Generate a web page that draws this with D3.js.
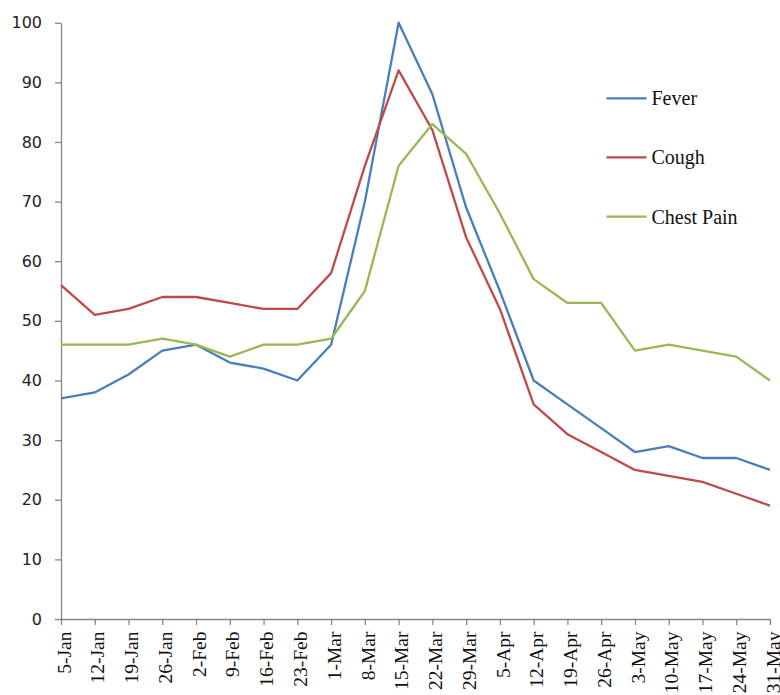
<!DOCTYPE html>
<html>
<head>
<meta charset="utf-8">
<script src="https://cdn.jsdelivr.net/npm/d3@7"></script>
<style>
  html, body { margin: 0; padding: 0; background: #fff; }
  svg { display: block; }
</style>
</head>
<body>
<svg id="chart" width="780" height="695"></svg>
<script>
const categories = ["5-Jan","12-Jan","19-Jan","26-Jan","2-Feb","9-Feb","16-Feb","23-Feb","1-Mar","8-Mar","15-Mar","22-Mar","29-Mar","5-Apr","12-Apr","19-Apr","26-Apr","3-May","10-May","17-May","24-May","31-May"];
const fever     = [37, 38, 41, 45, 46, 43, 42, 40, 46, 70, 100, 88, 69, 55, 40, 36, 32, 28, 29, 27, 27, 25];
const cough     = [56, 51, 52, 54, 54, 53, 52, 52, 58, 76, 92, 82, 64, 52, 36, 31, 28, 25, 24, 23, 21, 19];
const chestPain = [46, 46, 46, 47, 46, 44, 46, 46, 47, 55, 76, 83, 78, 68, 57, 53, 53, 45, 46, 45, 44, 40];
const seriesNames = ["Fever", "Cough", "Chest Pain"];
const seriesColors = ["#4A7EBB", "#BE4B48", "#98B954"];
const yTicks = [0, 10, 20, 30, 40, 50, 60, 70, 80, 90, 100];

const seriesData = [fever, cough, chestPain];

const svg = d3.select("#chart");
const plotLeft = 61, plotRight = 770, plotTop = 22.7, plotBottom = 619;

const x = d3.scalePoint().domain(categories).range([plotLeft, plotRight]);
const y = d3.scaleLinear().domain([0, 100]).range([plotBottom, plotTop]);

const axisColor = "#868686";

// Y axis
const yAxis = svg.append("g").attr("transform", `translate(${plotLeft},0)`)
  .call(d3.axisLeft(y).tickValues(yTicks).tickSize(6).tickSizeOuter(0).tickPadding(13));
yAxis.select(".domain").attr("stroke", axisColor).attr("stroke-width", 1.3);
yAxis.selectAll(".tick line").attr("stroke", axisColor).attr("stroke-width", 1.3);
yAxis.selectAll(".tick text")
  .attr("font-family", "DejaVu Sans, Verdana, sans-serif")
  .attr("font-size", "16px")
  .attr("fill", "#222");

// X axis
const xAxis = svg.append("g").attr("transform", `translate(0,${plotBottom})`)
  .call(d3.axisBottom(x).tickSize(6).tickSizeOuter(0));
xAxis.select(".domain").attr("stroke", axisColor).attr("stroke-width", 1.3)
  .attr("d", `M${plotLeft},0.5H${plotRight}`);
xAxis.selectAll(".tick line").attr("stroke", axisColor).attr("stroke-width", 1.3);
xAxis.selectAll(".tick text")
  .attr("font-family", "Liberation Serif, Times New Roman, serif")
  .attr("font-size", "19.5px")
  .attr("fill", "#111")
  .attr("text-anchor", "end")
  .attr("transform", "translate(0,12.5) rotate(-90)")
  .attr("x", 0)
  .attr("y", 0)
  .attr("dy", "0.47em");

// Lines
const line = d3.line()
  .x((d, i) => x(categories[i]))
  .y(d => y(d));

seriesData.forEach((data, k) => {
  svg.append("path")
    .datum(data)
    .attr("fill", "none")
    .attr("stroke", seriesColors[k])
    .attr("stroke-width", 2.3)
    .attr("stroke-linejoin", "round")
    .attr("d", line);
});

// Legend
const legendY = [98.3, 157.3, 216.7];
const legend = svg.append("g");
seriesNames.forEach((name, k) => {
  legend.append("line")
    .attr("x1", 606.5).attr("x2", 646.5)
    .attr("y1", legendY[k]).attr("y2", legendY[k])
    .attr("stroke", seriesColors[k])
    .attr("stroke-width", 2.3);
  legend.append("text")
    .attr("x", 651.5)
    .attr("y", legendY[k] + 6.8)
    .attr("font-family", "Liberation Serif, Times New Roman, serif")
    .attr("font-size", "20px")
    .attr("fill", "#111")
    .text(name);
});
</script>
</body>
</html>
